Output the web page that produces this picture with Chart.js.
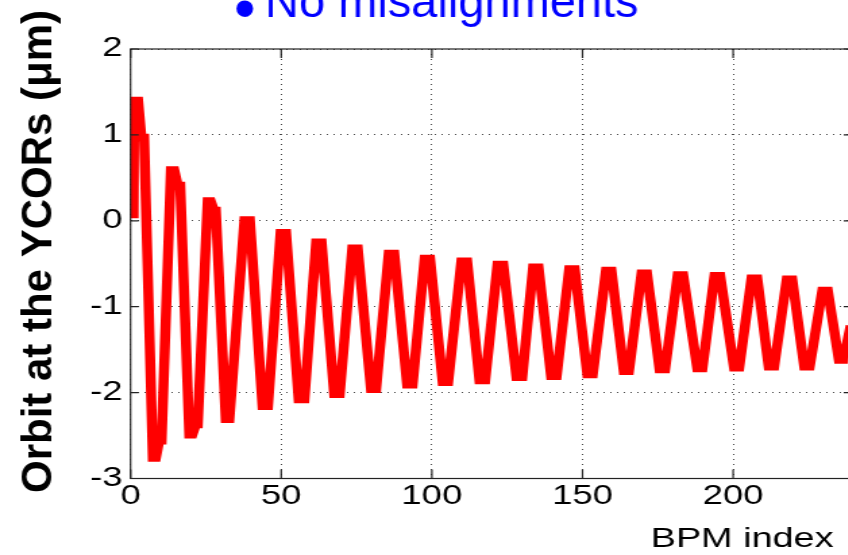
<!DOCTYPE html>
<html>
<head>
<meta charset="utf-8">
<script src="https://cdn.jsdelivr.net/npm/chart.js@4.4.0/dist/chart.umd.min.js"></script>
<style>
  html, body { margin: 0; padding: 0; background: #fff; overflow: hidden; }
  /* the source picture is a MATLAB figure stretched sideways on a slide */
  #wrap { position: absolute; left: 0; top: 0; width: 632px; height: 555px; transform: scaleX(1.35); transform-origin: 0 0; }
</style>
</head>
<body>
<div id="wrap"><canvas id="orbitChart" width="632" height="555"></canvas></div>
<script>
// Orbit (peaks and troughs of the oscillation)
const bpmIndex = [
  1, 1.2, 2.5, 3.6, 4.5, 7.4, 8.4, 9.5, 10.3, 13.4, 14.5, 15.7, 16.5,
  19.5, 20.5, 21.7, 22.3, 25.6, 26.6, 27.7, 28.3, 31.6, 32.8,
  37.8, 39.6, 43.8, 45.6, 49.8, 51.6, 55.8, 57.7, 61.6, 63.4, 67.6, 69.4,
  73.6, 75.4, 79.8, 81.5, 85.7, 87.5, 91.8, 93.6, 97.6, 99.4, 103.6, 105.4,
  109.8, 111.7, 115.8, 117.7, 121.8, 123.7, 128.1, 130.0, 133.6, 135.4,
  139.6, 141.4, 145.6, 147.4, 151.6, 153.4, 157.8, 159.6, 163.7, 165.4,
  169.6, 171.4, 175.6, 177.4, 181.6, 183.4, 188.1, 189.8, 193.8, 195.7,
  200.3, 202.0, 206.1, 208.0, 211.8, 213.6, 217.8, 219.6, 223.6, 225.4,
  229.6, 231.4, 235.1, 236.6, 239
];
const orbitUm = [
  0.03, 1.40, 1.40, 0.97, 0.97, -2.76, -2.76, -2.56, -2.56, 0.59, 0.59, 0.41, 0.41,
  -2.49, -2.49, -2.37, -2.37, 0.23, 0.23, 0.12, 0.12, -2.31, -2.31,
  0.01, 0.01, -2.16, -2.16, -0.14, -0.14, -2.08, -2.08, -0.25, -0.25, -2.02, -2.02,
  -0.32, -0.32, -1.96, -1.96, -0.38, -0.38, -1.91, -1.91, -0.44, -0.44, -1.88, -1.88,
  -0.47, -0.47, -1.86, -1.86, -0.51, -0.51, -1.82, -1.82, -0.54, -0.54,
  -1.81, -1.81, -0.56, -0.56, -1.79, -1.79, -0.58, -0.58, -1.75, -1.75,
  -0.61, -0.61, -1.73, -1.73, -0.63, -0.63, -1.72, -1.72, -0.64, -0.64,
  -1.71, -1.71, -0.67, -0.67, -1.70, -1.70, -0.68, -0.68, -1.70, -1.70,
  -0.81, -0.81, -1.62, -1.62, -1.22
];
const xTicks = [0, 50, 100, 150, 200];
const yTicks = [-3, -2, -1, 0, 1, 2];

const titleText = 'No misalignments';
const xTitle = 'BPM index';
const yTitle = 'Orbit at the YCORs (\u03bcm)';

const S = 1.35; // horizontal stretch of the wrapper
const FONT = '"Liberation Sans", Arial, Helvetica, sans-serif';

// Box around the axes with inward ticks, plus the slide texts
const framePlugin = {
  id: 'frame',
  afterDatasetsDraw(chart) {
    const { ctx, chartArea: a, scales: { x, y } } = chart;
    ctx.save();
    ctx.strokeStyle = '#222';
    ctx.lineWidth = 1.2;
    ctx.strokeRect(a.left, a.top, a.right - a.left, a.bottom - a.top);
    ctx.beginPath();
    xTicks.forEach(v => {
      const px = x.getPixelForValue(v);
      ctx.moveTo(px, a.bottom); ctx.lineTo(px, a.bottom - 9);
      ctx.moveTo(px, a.top); ctx.lineTo(px, a.top + 9);
    });
    yTicks.forEach(v => {
      const py = y.getPixelForValue(v);
      ctx.moveTo(a.left, py); ctx.lineTo(a.left + 6, py);
      ctx.moveTo(a.right, py); ctx.lineTo(a.right - 6, py);
    });
    ctx.stroke();
    ctx.restore();
  },
  afterDraw(chart) {
    const ctx = chart.ctx;
    // x label sits inside the stretched figure
    ctx.save();
    ctx.fillStyle = '#000';
    ctx.font = '28px ' + FONT;
    ctx.textBaseline = 'alphabetic';
    ctx.fillText(xTitle, 482, 547);
    ctx.restore();

    // slide texts are not stretched: undo the wrapper scale
    ctx.save();
    ctx.scale(1 / S, 1);
    ctx.fillStyle = '#0000ff';
    ctx.textBaseline = 'alphabetic';
    ctx.font = '62px ' + FONT;
    ctx.fillText('\u2022', 234, 29);
    ctx.font = '47px ' + FONT;
    ctx.fillText(titleText, 265, 17);

    ctx.fillStyle = '#000';
    ctx.font = 'bold 42px ' + FONT;
    ctx.translate(51, 251.5);
    ctx.rotate(-Math.PI / 2);
    ctx.textAlign = 'center';
    ctx.fillText(yTitle, 0, 0);
    ctx.restore();
  }
};

const ctx = document.getElementById('orbitChart').getContext('2d');
new Chart(ctx, {
  type: 'line',
  data: {
    datasets: [{
      data: bpmIndex.map((b, i) => ({ x: b, y: orbitUm[i] })),
      borderColor: '#ff0000',
      borderWidth: 7.5,
      borderJoinStyle: 'miter',
      pointRadius: 0,
      tension: 0,
      fill: false
    }]
  },
  options: {
    responsive: false,
    animation: false,
    layout: { padding: { top: 49, right: 1, left: 0, bottom: 0 } },
    plugins: { legend: { display: false }, tooltip: { enabled: false }, title: { display: false } },
    scales: {
      x: {
        type: 'linear',
        min: 0,
        max: 239.4,
        afterBuildTicks: s => { s.ticks = xTicks.map(v => ({ value: v })); },
        afterFit: s => { s.height = 76.5; },
        ticks: { color: '#000', padding: 2, maxRotation: 0, font: { family: FONT, size: 27 } },
        grid: { color: '#444', lineWidth: 1, drawTicks: false },
        border: { display: false, dash: [1, 4] }
      },
      y: {
        min: -3,
        max: 2,
        afterBuildTicks: s => { s.ticks = yTicks.map(v => ({ value: v })); },
        afterFit: s => { s.width = 96.7; },
        ticks: { color: '#000', padding: 6, font: { family: FONT, size: 27 } },
        grid: { color: '#444', lineWidth: 1, drawTicks: false },
        border: { display: false, dash: [1, 4] }
      }
    }
  },
  plugins: [framePlugin]
});
</script>
</body>
</html>
